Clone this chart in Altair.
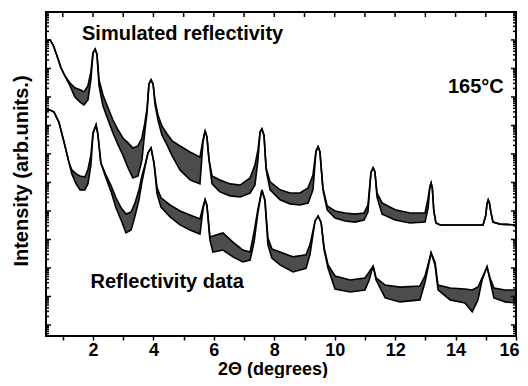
import altair as alt
import pandas as pd
import numpy as np

# ---- data (x in degrees 2-theta, intensities as log10 of arb. units) ----
sim_x = [0.48, 0.58, 0.68, 0.81, 0.94, 1.07, 1.24, 1.40, 1.57, 1.70,
         1.83, 1.93, 2.00, 2.07, 2.13, 2.20, 2.33, 2.50, 2.66, 2.83,
         2.99, 3.16, 3.32, 3.49, 3.62, 3.72, 3.79, 3.85, 3.92, 3.99,
         4.05, 4.15, 4.28, 4.45, 4.62, 4.88, 5.21, 5.54, 5.64, 5.71,
         5.77, 5.84, 5.94, 6.20, 6.54, 6.87, 7.20, 7.36, 7.46, 7.53,
         7.59, 7.66, 7.73, 7.86, 8.19, 8.52, 8.85, 9.12, 9.28, 9.38,
         9.45, 9.51, 9.61, 9.75, 10.01, 10.34, 10.67, 10.97, 11.10, 11.20,
         11.27, 11.33, 11.40, 11.57, 12.00, 12.49, 12.99, 13.09, 13.15, 13.19, 13.23, 13.28,
         13.35, 13.49, 14.91, 15.00, 15.04, 15.08, 15.12, 15.17, 15.24, 15.47, 16.00]
sim_hi = [10.0, 10.0, 9.82, 9.44, 9.02, 8.74, 8.49, 8.32, 8.25, 8.18,
          8.39, 8.88, 9.55, 9.68, 9.5, 8.6, 8.07, 7.61, 7.19, 6.84,
          6.56, 6.39, 6.21, 6.28, 6.56, 7.12, 7.61, 8.45, 8.6, 8.45,
          7.89, 7.37, 6.98, 6.7, 6.46, 6.28, 6.07, 5.89, 6.5, 6.81,
          6.6, 5.79, 5.23, 5.09, 4.95, 4.91, 5.16, 5.61, 6.14, 6.77,
          6.88, 6.65, 5.51, 5.02, 4.74, 4.63, 4.63, 4.81, 5.26, 6.1,
          6.25, 6.08, 4.81, 4.18, 4.0, 3.93, 3.89, 3.93, 4.21, 5.35,
          5.51, 5.38, 4.63, 4.28, 4.04, 3.93, 3.93, 4.45, 4.85, 4.98, 4.8, 4.0,
          3.58, 3.51, 3.51, 3.85, 4.25, 4.39, 4.28, 3.95, 3.61, 3.54, 3.51]
sim_lo = [10.0, 10.0, 9.82, 9.44, 9.02, 8.74, 8.39, 8.0, 7.82, 7.72,
          7.89, 8.6, 9.55, 9.68, 9.5, 8.39, 7.68, 7.19, 6.74, 6.32,
          5.96, 5.51, 5.16, 5.23, 5.79, 6.84, 7.47, 8.45, 8.6, 8.45,
          7.75, 7.19, 6.67, 6.32, 5.93, 5.44, 5.09, 4.95, 6.4, 6.81,
          6.6, 5.79, 4.95, 4.67, 4.53, 4.49, 4.63, 4.91, 5.79, 6.77,
          6.88, 6.65, 5.44, 4.74, 4.39, 4.25, 4.21, 4.28, 4.74, 6.1,
          6.25, 6.08, 4.74, 4.04, 3.75, 3.65, 3.61, 3.68, 3.96, 5.35,
          5.51, 5.38, 4.49, 3.89, 3.68, 3.58, 3.61, 4.1, 4.85, 4.98, 4.8, 4.0,
          3.58, 3.51, 3.51, 3.85, 4.25, 4.39, 4.28, 3.95, 3.61, 3.54, 3.51]

dat_x = [0.48, 0.58, 0.71, 0.87, 1.04, 1.20, 1.30, 1.44, 1.57, 1.73,
         1.83, 1.93, 2.00, 2.10, 2.16, 2.26, 2.43, 2.60, 2.76, 2.93,
         3.09, 3.26, 3.39, 3.52, 3.62, 3.72, 3.82, 3.92, 4.02, 4.12,
         4.25, 4.55, 4.88, 5.21, 5.54, 5.64, 5.71, 5.77, 5.87, 5.97,
         6.30, 6.63, 6.96, 7.20, 7.33, 7.46, 7.59, 7.69, 7.79, 7.92,
         8.19, 8.62, 9.05, 9.18, 9.35, 9.45, 9.55, 9.65, 9.78, 10.01,
         10.51, 11.00, 11.14, 11.27, 11.37, 11.67, 12.16, 12.82, 12.99, 13.19,
         13.32, 13.42, 13.82, 14.31, 14.55, 14.74, 14.88, 15.04, 15.14, 15.27,
         15.64, 16.00]
dat_hi = [7.54, 7.54, 7.47, 7.12, 6.42, 5.72, 5.44, 5.3, 5.23, 5.19,
          5.44, 5.96, 6.75, 7.02, 6.7, 5.68, 5.26, 4.88, 4.46, 4.11,
          3.89, 3.96, 4.28, 4.74, 5.23, 5.61, 6.04, 6.21, 5.7, 4.81,
          4.46, 4.21, 4.0, 3.86, 3.72, 4.15, 4.39, 4.2, 3.09, 3.12,
          3.23, 2.91, 2.63, 2.56, 3.26, 4.07, 4.74, 4.4, 3.05, 2.67,
          2.56, 2.39, 2.46, 2.81, 3.65, 3.82, 3.6, 2.7, 2.11, 1.72,
          1.58, 1.65, 1.86, 2.07, 1.65, 1.4, 1.33, 1.37, 1.72, 2.53,
          2.2, 1.4, 1.3, 1.26, 1.23, 1.33, 1.65, 2.04, 1.65, 1.3,
          1.23, 1.23]
dat_lo = [7.54, 7.54, 7.47, 7.12, 6.42, 5.72, 5.3, 4.95, 4.74, 4.74,
          4.95, 5.61, 6.7, 7.02, 6.7, 5.68, 5.16, 4.67, 4.11, 3.68,
          3.23, 3.33, 3.82, 4.39, 5.02, 5.54, 6.04, 6.21, 5.65, 4.6,
          4.14, 3.79, 3.51, 3.33, 3.19, 4.05, 4.39, 4.2, 2.98, 2.56,
          2.63, 2.39, 2.21, 2.28, 2.91, 3.96, 4.74, 4.35, 2.81, 2.35,
          2.11, 1.86, 1.99, 2.46, 3.65, 3.82, 3.6, 2.63, 1.99, 1.26,
          1.16, 1.23, 1.58, 2.07, 1.58, 0.95, 0.81, 0.88, 1.51, 2.53,
          2.1, 1.23, 0.88, 0.77, 0.46, 0.88, 1.58, 2.04, 1.58, 0.95,
          0.81, 0.77]

x_ticks = list(range(1, 17))
y_major = [10.0 ** n for n in range(0, 11)]
y_minor = [k * 10.0 ** n for n in range(-1, 11) for k in range(2, 10)
           if 0.42 <= k * 10.0 ** n <= 9.5e10]

sim = pd.DataFrame({"x": sim_x, "hi": 10.0 ** np.array(sim_hi), "lo": 10.0 ** np.array(sim_lo)})
dat = pd.DataFrame({"x": dat_x, "hi": 10.0 ** np.array(dat_hi), "lo": 10.0 ** np.array(dat_lo)})

FONT = "Liberation Sans, Arial, sans-serif"
W, H = 470, 324

xs = alt.Scale(domain=[0.444, 16], nice=False, zero=False)
ys = alt.Scale(type="log", domain=[0.411, 9.55e10], nice=False)

xaxis = alt.Axis(values=x_ticks, labelExpr="datum.value % 2 == 0 ? datum.label : ''",
                 tickSize=4, tickWidth=1.5, tickColor="black", domain=False, grid=False,
                 labelFont=FONT, labelFontWeight="bold", labelFontSize=18, labelColor="black",
                 labelPadding=1, labelFlush=True, labelFlushOffset=3, labelOverlap=False,
                 title="")
yaxis = alt.Axis(labels=False, ticks=False, domain=False, grid=False, title="")

X = alt.X("x:Q", scale=xs, axis=xaxis)


def band(df):
    area = alt.Chart(df).mark_area(color="black", opacity=0.7).encode(
        x=X, y=alt.Y("hi:Q", scale=ys, axis=yaxis), y2="lo:Q")
    l1 = alt.Chart(df).mark_line(color="black", strokeWidth=1.6).encode(
        x=X, y=alt.Y("hi:Q", scale=ys, axis=yaxis))
    l2 = alt.Chart(df).mark_line(color="black", strokeWidth=1.6).encode(
        x=X, y=alt.Y("lo:Q", scale=ys, axis=yaxis))
    return [area, l1, l2]


ymaj = pd.DataFrame({"v": y_major})
ymin = pd.DataFrame({"v": y_minor})
xt = pd.DataFrame({"v": x_ticks})


def yticks(df, length):
    left = alt.Chart(df).mark_rule(color="black", strokeWidth=1.5).encode(
        y=alt.Y("v:Q", scale=ys, axis=yaxis), x=alt.value(0), x2=alt.value(length))
    right = alt.Chart(df).mark_rule(color="black", strokeWidth=1.5).encode(
        y=alt.Y("v:Q", scale=ys, axis=yaxis), x=alt.value(W - length), x2=alt.value(W))
    return [left, right]


top_ticks = alt.Chart(xt).mark_rule(color="black", strokeWidth=1.5).encode(
    x=alt.X("v:Q", scale=xs, axis=xaxis), y=alt.value(0), y2=alt.value(5))

one = pd.DataFrame({"a": [0]})


def label(text, x, y, align="left", angle=0, size=20):
    return alt.Chart(one).mark_text(text=text, font=FONT, fontWeight="bold", fontSize=size,
                                    color="black", align=align, baseline="alphabetic",
                                    angle=angle).encode(x=alt.value(x), y=alt.value(y))


texts = [
    label("Simulated reflectivity", 36, 27.5),
    label("Reflectivity data", 44.5, 276),
    label("165°C", 402, 81),
    label("2Θ (degrees)", 227, 363, align="center", size=18),
    label("Intensity (arb.units.)", -18, 159, align="center", angle=270),
]

layers = band(sim) + band(dat) + yticks(ymaj, 5) + yticks(ymin, 3) + [top_ticks] + texts

chart = alt.layer(*layers).properties(
    width=W, height=H,
    autosize=alt.AutoSizeParams(type="none"),
    padding={"left": 38, "top": 4, "right": 4, "bottom": 42},
    background="white",
).configure_view(stroke="black", strokeWidth=2)

chart.save("out.html", embed_options={"renderer": "svg", "actions": False})
